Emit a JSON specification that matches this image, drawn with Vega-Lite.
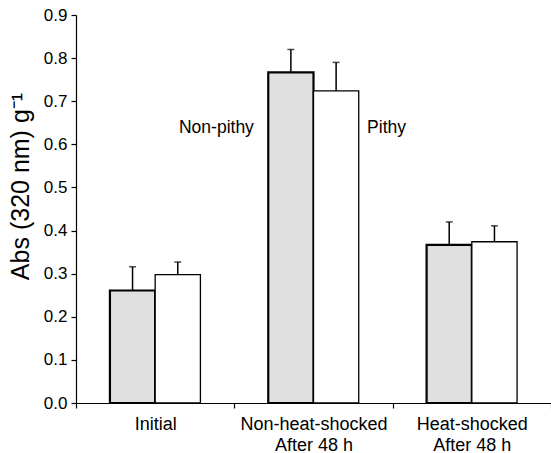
{
  "$schema": "https://vega.github.io/schema/vega-lite/v6.json",
  "width": 475,
  "height": 388,
  "autosize": {"type": "none"},
  "padding": {"left": 76, "top": 15, "right": 0, "bottom": 50},
  "background": "white",
  "config": {
    "view": {"stroke": null},
    "font": "Liberation Sans",
    "axis": {"domainColor": "black", "tickColor": "black", "labelColor": "black", "titleColor": "black", "grid": false, "domainWidth": 1.2, "tickWidth": 1.2}
  },
  "datasets": {
    "bars": [
      {"condition": "Initial", "tissue": "Non-pithy", "mean": 0.261, "upper": 0.316},
      {"condition": "Initial", "tissue": "Pithy", "mean": 0.298, "upper": 0.327},
      {"condition": "Non-heat-shocked|After 48 h", "tissue": "Non-pithy", "mean": 0.767, "upper": 0.820},
      {"condition": "Non-heat-shocked|After 48 h", "tissue": "Pithy", "mean": 0.724, "upper": 0.790},
      {"condition": "Heat-shocked|After 48 h", "tissue": "Non-pithy", "mean": 0.367, "upper": 0.420},
      {"condition": "Heat-shocked|After 48 h", "tissue": "Pithy", "mean": 0.374, "upper": 0.411}
    ],
    "notesNP": [
      {"condition": "Non-heat-shocked|After 48 h", "tissue": "Non-pithy", "y": 0.626, "text": "Non-pithy"}
    ],
    "notesP": [
      {"condition": "Non-heat-shocked|After 48 h", "tissue": "Pithy", "y": 0.626, "text": "Pithy"}
    ]
  },
  "encoding": {
    "x": {
      "field": "condition", "type": "nominal",
      "scale": {"domain": ["Initial", "Non-heat-shocked|After 48 h", "Heat-shocked|After 48 h"], "paddingInner": 0, "paddingOuter": 0},
      "axis": {"title": null, "labelExpr": "split(datum.label, '|')", "labelAngle": 0, "labelFontSize": 18, "labelLineHeight": 21, "tickBand": "extent", "tickSize": 5, "labelPadding": 7}
    },
    "xOffset": {
      "field": "tissue", "type": "nominal",
      "scale": {"domain": ["Non-pithy", "Pithy"], "paddingInner": 0, "paddingOuter": 0.75}
    }
  },
  "layer": [
    {
      "data": {"name": "bars"},
      "mark": {"type": "bar", "stroke": "black"},
      "encoding": {
        "y": {
          "field": "mean", "type": "quantitative",
          "scale": {"domain": [0, 0.9], "nice": false},
          "axis": {"title": "Abs (320 nm) g⁻¹", "values": [0, 0.1, 0.2, 0.3, 0.4, 0.5, 0.6, 0.7, 0.8, 0.9], "format": ".1f", "tickSize": 5, "labelPadding": 4, "labelFontSize": 17, "titleFontSize": 25, "titleFontWeight": "normal", "titlePadding": 10, "titleY": 171}
        },
        "fill": {"field": "tissue", "type": "nominal", "scale": {"domain": ["Non-pithy", "Pithy"], "range": ["#e0e0e0", "#ffffff"]}, "legend": null},
        "strokeWidth": {"condition": {"test": "datum.tissue === 'Non-pithy'", "value": 2.2}, "value": 1.3}
      }
    },
    {
      "data": {"name": "bars"},
      "mark": {"type": "rule", "color": "black", "strokeWidth": 1.5},
      "encoding": {
        "y": {"field": "mean", "type": "quantitative"},
        "y2": {"field": "upper"}
      }
    },
    {
      "data": {"name": "bars"},
      "mark": {"type": "tick", "color": "black", "size": 7, "thickness": 1.5},
      "encoding": {
        "y": {"field": "upper", "type": "quantitative"}
      }
    },
    {
      "data": {"name": "notesNP"},
      "mark": {"type": "text", "fontSize": 17.5, "baseline": "alphabetic", "align": "right", "dx": -37},
      "encoding": {
        "y": {"field": "y", "type": "quantitative"},
        "text": {"field": "text"}
      }
    },
    {
      "data": {"name": "notesP"},
      "mark": {"type": "text", "fontSize": 17.5, "baseline": "alphabetic", "align": "left", "dx": 31},
      "encoding": {
        "y": {"field": "y", "type": "quantitative"},
        "text": {"field": "text"}
      }
    }
  ]
}
